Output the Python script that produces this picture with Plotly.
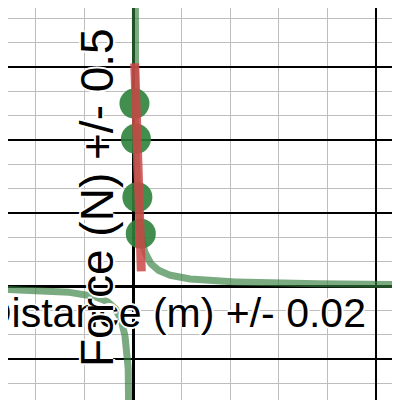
import numpy as np
import plotly.graph_objects as go

# measured data points (distance m, force N)
distance = [0.003, 0.006, 0.009, 0.016]
force = [7.5, 6.05, 3.65, 2.15]
# linear trend segment endpoints
trend_x = [0.0035, 0.0171]
trend_y = [9.15, 0.6]
# inverse fit constant F = k / d
k_fit = 0.034

xl = np.linspace(-0.28, -0.0005, 600)
xr = np.linspace(0.0005, 0.58, 600)
fig = go.Figure()
curve = dict(color="rgba(50,125,60,0.65)", width=7)
fig.add_trace(go.Scatter(x=xl, y=k_fit / xl, mode="lines", line=curve))
fig.add_trace(go.Scatter(x=xr, y=k_fit / xr, mode="lines", line=curve))
fig.add_trace(go.Scatter(x=distance, y=force, mode="markers",
                         marker=dict(size=30, color="rgba(45,130,60,0.9)")))
fig.add_trace(go.Scatter(x=trend_x, y=trend_y, mode="lines",
                         line=dict(color="rgba(205,70,70,0.85)", width=9)))

fig.update_layout(
    width=400, height=400, margin=dict(l=0, r=0, t=0, b=0),
    plot_bgcolor="white", paper_bgcolor="white", showlegend=False,
    font=dict(family="Liberation Sans, Arial", color="black"),
    xaxis=dict(range=[-0.2572, 0.5658], dtick=0.5, tick0=0, showgrid=True,
               gridcolor="black", gridwidth=1.5, zeroline=True, zerolinecolor="black",
               zerolinewidth=2.5, showticklabels=False, ticks="",
               minor=dict(dtick=0.1, showgrid=True, gridcolor="#bdbdbd", gridwidth=1)),
    yaxis=dict(range=[-5.014, 11.426], dtick=3, tick0=0, showgrid=True,
               gridcolor="black", gridwidth=1.5, zeroline=True, zerolinecolor="black",
               zerolinewidth=2.5, showticklabels=False, ticks="",
               minor=dict(dtick=1, showgrid=True, gridcolor="#bdbdbd", gridwidth=1)),
)
halo = "2px 0 0 white, -2px 0 0 white, 0 2px 0 white, 0 -2px 0 white"
fig.add_annotation(text="Distance (m) +/- 0.02", xref="paper", yref="paper",
                   x=360 / 400, y=1 - 305 / 400, xanchor="right", yanchor="middle",
                   showarrow=False, font=dict(size=41, shadow=halo))
fig.add_annotation(text="Force (N) +/- 0.5", xref="paper", yref="paper",
                   x=89 / 400, y=1 - 190 / 400, xanchor="center", yanchor="middle",
                   textangle=-90, showarrow=False, font=dict(size=46, shadow=halo))
fig.write_html("out.html")
